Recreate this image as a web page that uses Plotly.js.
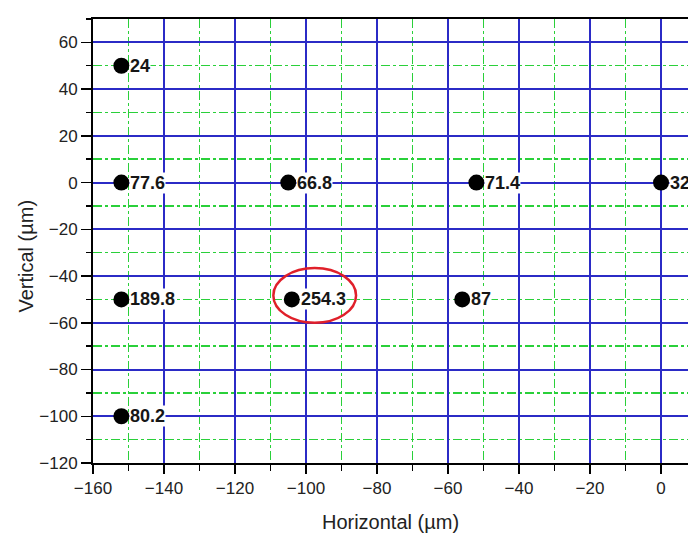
<!DOCTYPE html>
<html>
<head>
<meta charset="utf-8">
<script src="https://cdn.plot.ly/plotly-3.0.1.min.js"></script>
<style>
  html, body { margin: 0; padding: 0; background: #ffffff; }
  #chart { width: 688px; height: 534px; }
</style>
</head>
<body>
<div id="chart"></div>
<script>
// Measurement points (µm) and the value recorded at each one
const xPos = [-152, -152, -105, -52, 0, -152, -104, -56, -152];
const yPos = [50, 0, 0, 0, 0, -50, -50, -50, -100];
const values = ['24', '77.6', '66.8', '71.4', '32', '189.8', '254.3', '87', '80.2'];

// Highlighted point (drawn with a red ellipse around it)
const highlightIndex = 6;

const FONT = 'Liberation Sans, Arial, sans-serif';
const BLUE = '#2b2bc6';
const GREEN = '#2ad03a';

const trace = {
  type: 'scatter',
  mode: 'markers',
  x: xPos,
  y: yPos,
  marker: { color: '#000000', size: 16, line: { width: 0 } },
  hoverinfo: 'skip',
  showlegend: false,
  cliponaxis: false
};

const annotations = values.map((v, i) => ({
  x: xPos[i],
  y: yPos[i],
  xref: 'x',
  yref: 'y',
  text: v,
  showarrow: false,
  xanchor: 'left',
  yanchor: 'middle',
  xshift: 8,
  bgcolor: '#ffffff',
  borderpad: 0,
  font: { family: FONT, size: 18, weight: 'bold', color: '#161616' }
}));

// Vertical axis title, placed beside the tick labels
annotations.push({
  text: 'Vertical (µm)',
  xref: 'paper',
  yref: 'paper',
  x: 0,
  y: 0.465,
  xanchor: 'center',
  yanchor: 'middle',
  xshift: -67,
  textangle: -90,
  showarrow: false,
  font: { family: FONT, size: 20, color: '#222222' }
});

const hx = xPos[highlightIndex];
const hy = yPos[highlightIndex];

const layout = {
  width: 688,
  height: 534,
  margin: { l: 93, r: 0, t: 19, b: 71 },
  paper_bgcolor: '#ffffff',
  plot_bgcolor: '#ffffff',
  showlegend: false,
  font: { family: FONT, color: '#222222' },
  xaxis: {
    range: [-160, 7.6],
    tick0: 0,
    dtick: 20,
    ticks: 'outside',
    ticklen: 9,
    tickwidth: 1.5,
    tickcolor: '#000000',
    showline: true,
    mirror: true,
    linecolor: '#000000',
    linewidth: 2,
    showgrid: true,
    gridcolor: BLUE,
    gridwidth: 2,
    zeroline: false,
    tickfont: { family: FONT, size: 17, color: '#222222' },
    minor: {
      dtick: 10,
      ticks: 'outside',
      ticklen: 6,
      tickwidth: 1.5,
      tickcolor: '#000000',
      showgrid: true,
      gridcolor: GREEN,
      gridwidth: 1.5,
      griddash: 'dashdot'
    },
    title: { text: 'Horizontal (µm)', font: { family: FONT, size: 20, color: '#222222' }, standoff: 18 },
    fixedrange: true
  },
  xaxis2: {
    overlaying: 'x',
    side: 'top',
    range: [-160, 7.6],
    tick0: 0,
    dtick: 10,
    ticks: 'inside',
    ticklen: 7,
    tickwidth: 1.5,
    tickcolor: '#000000',
    showticklabels: false,
    showgrid: false,
    showline: false,
    zeroline: false,
    fixedrange: true
  },
  yaxis: {
    range: [-120, 70],
    tick0: 0,
    dtick: 20,
    ticks: 'outside',
    ticklen: 10,
    tickwidth: 1.5,
    tickcolor: '#000000',
    showline: true,
    linecolor: '#000000',
    linewidth: 2,
    showgrid: true,
    gridcolor: BLUE,
    gridwidth: 2,
    zeroline: false,
    tickfont: { family: FONT, size: 17, color: '#222222' },
    minor: {
      dtick: 10,
      ticks: 'outside',
      ticklen: 5,
      tickwidth: 1.5,
      tickcolor: '#000000',
      showgrid: true,
      gridcolor: GREEN,
      gridwidth: 1.5,
      griddash: 'dashdot'
    },
    fixedrange: true
  },
  shapes: [{
    type: 'circle',
    xref: 'x',
    yref: 'y',
    x0: hx - 5.2,
    x1: hx + 18.1,
    y0: hy - 10,
    y1: hy + 13.4,
    line: { color: '#e0202a', width: 2.5 },
    layer: 'above'
  }],
  annotations: annotations
};

Plotly.newPlot('chart', [trace], layout, { staticPlot: true, displayModeBar: false });
</script>
</body>
</html>
